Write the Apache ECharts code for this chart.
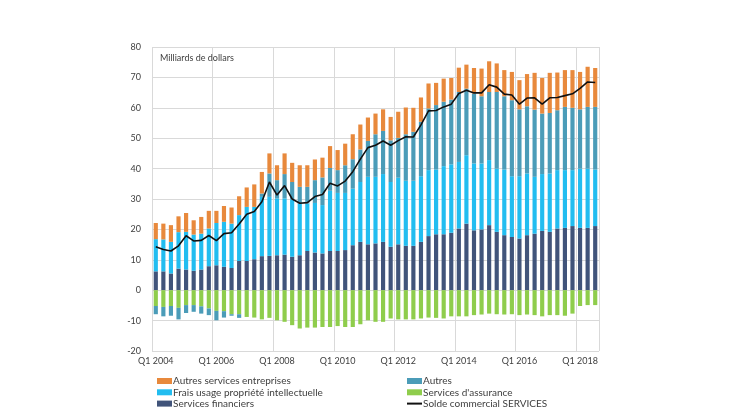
<!DOCTYPE html>
<html>
<head>
<meta charset="utf-8">
<script src="https://cdn.jsdelivr.net/npm/echarts@6/dist/echarts.min.js"></script>
<style>
html,body{margin:0;padding:0;background:#fff;}
#chart{width:730px;height:410px;}
</style>
</head>
<body>
<div id="chart"></div>
<script>
// Quarterly categories Q1 2004 .. Q3 2018
const categories = [];
for (let y = 2004; y <= 2018; y++) {
  for (let q = 1; q <= 4; q++) {
    if (y === 2018 && q > 3) break;
    categories.push('Q' + q + ' ' + y);
  }
}

const servicesFinanciers = [6.2,6.2,5.5,7.1,6.8,6.4,6.8,7.9,8.2,7.7,7.3,9.6,9.6,10.2,11.2,11.3,11.5,11.7,11.0,11.5,12.9,12.4,12.1,12.9,12.9,13.2,14.8,15.9,15.1,15.4,15.9,14.3,15.1,14.6,14.6,15.9,17.8,18.4,18.4,18.9,20.3,21.9,19.7,20.0,21.4,19.2,18.1,17.5,17.0,18.1,18.6,19.5,19.2,20.3,20.5,21.1,20.5,20.5,21.1];

const fraisPI = [10.6,10.5,10.4,12.0,12.4,11.9,11.8,12.4,13.9,14.8,14.6,15.1,17.8,17.2,19.5,19.4,18.7,18.5,18.8,17.0,15.6,16.3,15.9,19.8,19.1,18.8,18.6,19.7,22.2,21.9,22.3,21.3,21.9,21.4,21.4,21.6,21.7,21.3,22.4,22.5,21.9,22.5,22.0,21.7,21.4,20.8,21.6,20.0,20.5,20.3,18.7,18.7,19.2,19.2,19.0,18.4,19.5,19.5,18.6];

const assurance = [-5.2,-5.5,-5.2,-5.8,-4.9,-4.9,-5.3,-6.0,-6.8,-6.9,-7.9,-7.9,-8.8,-9.0,-9.6,-9.1,-9.9,-10.4,-11.5,-12.6,-12.3,-12.3,-12.1,-12.1,-11.8,-12.1,-12.1,-11.2,-9.9,-10.4,-10.4,-9.3,-9.6,-9.6,-9.6,-9.3,-9.0,-9.1,-9.3,-8.6,-8.6,-8.6,-8.2,-8.0,-7.7,-7.9,-8.0,-7.9,-8.2,-8.0,-8.2,-8.6,-8.2,-8.2,-8.4,-7.7,-5.2,-4.9,-4.9];

const autres = [-2.7,-3.1,-3.2,-3.8,-2.6,-2.2,-2.4,-2.2,-3.1,-2.1,-0.5,-1.2,0,0,1.1,7.7,6.0,8.0,5.8,5.5,5.5,7.5,9.1,7.5,7.5,9.1,9.7,10.7,11.8,14.0,14.2,13.7,13.1,15.3,16.1,17.9,20.3,21.2,21.2,21.3,23.0,21.9,23.0,22.1,22.4,25.2,24.1,25.0,22.0,22.1,22.1,19.9,19.9,19.7,20.8,20.5,19.5,20.3,20.6];

const autresServicesEntreprises = [5.3,5.2,5.5,5.2,6.2,4.7,5.5,5.8,4.0,5.2,5.3,6.2,6.4,7.4,7.1,6.6,4.9,6.8,6.3,7.1,7.1,6.8,6.5,7.2,6.6,7.1,8.2,8.2,7.7,6.8,7.1,7.7,8.6,8.8,7.9,8.0,8.2,7.3,7.6,7.1,8.0,7.9,8.4,9.1,10.1,9.4,8.6,9.3,9.6,10.6,12.1,11.7,13.2,12.4,12.1,12.4,12.3,13.2,12.8];

const soldeServices = [14.3,13.4,12.9,14.6,17.9,16.2,16.4,18.0,16.3,18.6,18.9,21.8,25.0,25.9,29.1,35.6,31.3,34.4,30.0,28.6,28.8,30.8,31.5,35.2,34.3,35.9,39.0,43.1,46.9,47.7,49.1,47.7,49.2,50.5,50.4,54.4,59.0,59.1,60.3,61.2,64.7,65.8,64.9,64.9,67.6,66.8,64.5,64.2,61.2,63.2,63.3,61.2,63.3,63.4,64.0,64.6,66.4,68.5,68.3];

const yTicks = {min: -20, max: 80, interval: 10};

const legendLeftCol = ['Autres services entreprises', 'Frais usage propriété intellectuelle', 'Services financiers'];
const legendRightCol = ['Autres', "Services d'assurance", 'Solde commercial SERVICES'];

const FONT = 'Lato';
const TXT = '#404040';

const chart = echarts.init(document.getElementById('chart'), null, {renderer: 'canvas'});

function barSeries(name, data, color) {
  return {
    name: name, type: 'bar', stack: 'total', data: data,
    barWidth: '55%',
    itemStyle: {color: color},
    emphasis: {disabled: true}
  };
}

const rowTops = [375, 386.3, 397.6];
const legends = [];
function addLegend(name, left, top, isLine) {
  legends.push({
    orient: 'horizontal', left: left, top: top, padding: 0,
    itemWidth: 15, itemHeight: isLine ? 2 : 6,
    icon: 'rect',
    selectedMode: false,
    textStyle: {fontFamily: FONT, fontSize: 10, color: TXT, padding: [0,0,0,-4], lineHeight: 12},
    data: [name]
  });
}
legendLeftCol.forEach((n, i) => addLegend(n, 157, rowTops[i], false));
legendRightCol.forEach((n, i) => addLegend(n, 407, rowTops[i], n === 'Solde commercial SERVICES'));

chart.setOption({
  animation: false,
  textStyle: {fontFamily: FONT},
  title: {
    text: 'Milliards de dollars',
    left: 155, top: 49,
    textStyle: {fontFamily: FONT, fontSize: 9, fontWeight: 'normal', color: TXT}
  },
  grid: {left: 152, right: 131, top: 47, bottom: 59, containLabel: false},
  legend: legends,
  xAxis: {
    type: 'category',
    data: categories,
    boundaryGap: true,
    axisLine: {show: false, onZero: false},
    axisTick: {show: false},
    axisLabel: {interval: 7, fontFamily: FONT, fontSize: 9, color: TXT, margin: 6},
    splitLine: {show: true, interval: 7, lineStyle: {color: '#d9d9d9', width: 1}}
  },
  yAxis: {
    type: 'value',
    min: yTicks.min, max: yTicks.max, interval: yTicks.interval,
    axisLine: {show: false},
    axisTick: {show: false},
    axisLabel: {fontFamily: FONT, fontSize: 9, color: TXT, margin: 11},
    splitLine: {lineStyle: {color: '#d9d9d9', width: 1}}
  },
  series: [
    barSeries('Services financiers', servicesFinanciers, '#41547a'),
    barSeries('Frais usage propriété intellectuelle', fraisPI, '#22bdf0'),
    barSeries("Services d'assurance", assurance, '#8fcd4c'),
    barSeries('Autres', autres, '#4b9cb8'),
    barSeries('Autres services entreprises', autresServicesEntreprises, '#e8893c'),
    {
      name: 'Solde commercial SERVICES', type: 'line', data: soldeServices,
      symbol: 'none', showSymbol: false,
      lineStyle: {color: '#111', width: 1.6},
      itemStyle: {color: '#111'},
      emphasis: {disabled: true},
      z: 10
    }
  ]
});
</script>
</body>
</html>
